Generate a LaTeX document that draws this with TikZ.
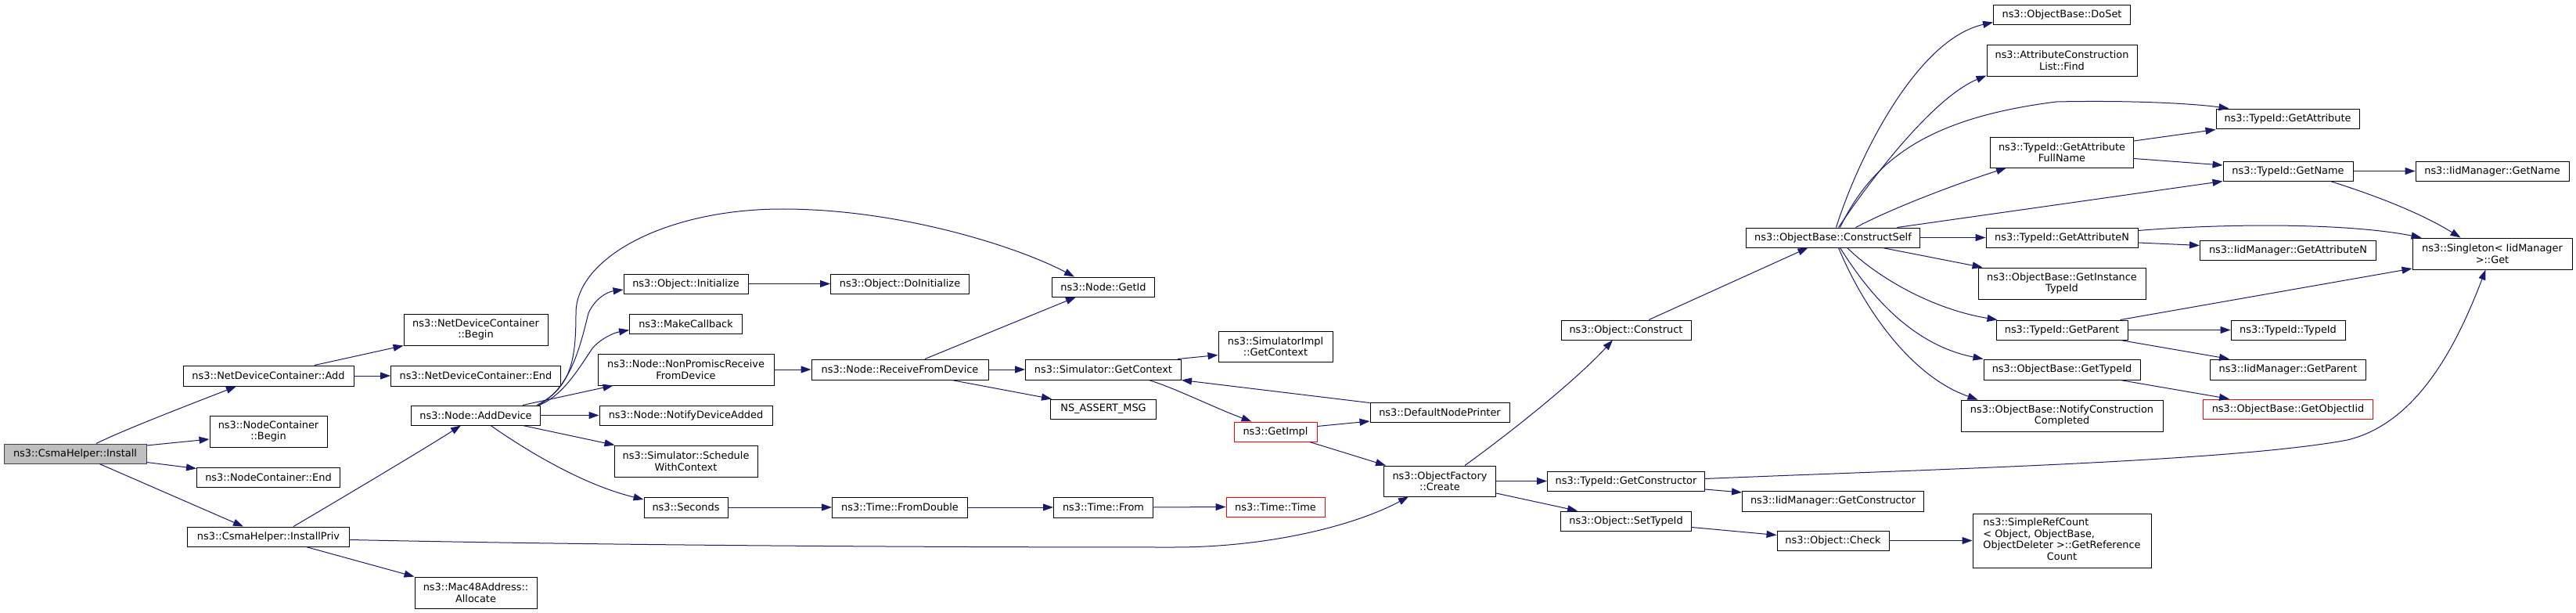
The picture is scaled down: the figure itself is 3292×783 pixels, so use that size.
\documentclass[tikz,border=0pt]{standalone}
\usepackage{fontspec}
\setmainfont{DejaVu Sans}
\usetikzlibrary{arrows.meta,calc}
\definecolor{edgec}{HTML}{191970}
\definecolor{rootfill}{HTML}{BFBFBF}
\definecolor{rootdraw}{HTML}{404040}
\newcommand\nodefont{\fontsize{12.9}{14.6}\selectfont}
\tikzset{
  nd/.style={draw=black, fill=white, line width=0.95pt, rectangle, inner sep=0pt, align=center, font=\nodefont},
  ndred/.style={nd, draw=red},
  ndroot/.style={nd, draw=rootdraw, fill=rootfill},
  sz/.style 2 args={minimum width=#1pt, minimum height=#2pt},
  conn/.style={draw=edgec, line width=1pt, -{Triangle[length=13pt,width=9pt]}}
}
\begin{document}
\begin{tikzpicture}[x=1pt,y=-1pt]
\useasboundingbox (0,0) rectangle (3292,783);
% rank 0
\node[ndroot,sz={182}{25}] (inst) at (96,579.5) {ns3::CsmaHelper::Install};
% rank 1
\node[nd,sz={218}{26}] (ndcadd) at (343,480) {ns3::NetDeviceContainer::Add};
\node[nd,sz={150}{40}] (ncbegin) at (343,551) {ns3::NodeContainer\\::Begin};
\node[nd,sz={183}{25}] (ncend) at (343,609.5) {ns3::NodeContainer::End};
\node[nd,sz={207}{25}] (instpriv) at (343,685.5) {ns3::CsmaHelper::InstallPriv};
% rank 2
\node[nd,sz={184}{40}] (ndcbegin) at (608,421) {ns3::NetDeviceContainer\\::Begin};
\node[nd,sz={217}{26}] (ndcend) at (608,480) {ns3::NetDeviceContainer::End};
\node[nd,sz={165}{25}] (adddev) at (608,530.5) {ns3::Node::AddDevice};
\node[nd,sz={156}{40}] (mac48) at (608,757) {ns3::Mac48Address::\\Allocate};
% rank 3
\node[nd,sz={159}{25}] (objinit) at (876.5,362.5) {ns3::Object::Initialize};
\node[nd,sz={144}{25}] (makecb) at (876.5,413.5) {ns3::MakeCallback};
\node[nd,sz={225}{40}] (nonpromisc) at (876.5,472) {ns3::Node::NonPromiscReceive\\FromDevice};
\node[nd,sz={221}{25}] (notify) at (876.5,530.5) {ns3::Node::NotifyDeviceAdded};
\node[nd,sz={183}{40}] (schedule) at (876.5,589) {ns3::Simulator::Schedule\\WithContext};
\node[nd,sz={107}{26}] (seconds) at (876.5,648) {ns3::Seconds};
% rank 4
\node[nd,sz={177}{25}] (doinit) at (1150,362.5) {ns3::Object::DoInitialize};
\node[nd,sz={226}{26}] (recv) at (1150,472) {ns3::Node::ReceiveFromDevice};
\node[nd,sz={173}{26}] (fromdouble) at (1150,648) {ns3::Time::FromDouble};
% rank 5
\node[nd,sz={131}{25}] (getid) at (1410,366.5) {ns3::Node::GetId};
\node[nd,sz={199}{26}] (simgetctx) at (1410,472) {ns3::Simulator::GetContext};
\node[nd,sz={135}{25}] (assert) at (1410,522.5) {NS\_ASSERT\_MSG};
\node[nd,sz={127}{26}] (timefrom) at (1410,648) {ns3::Time::From};
% rank 6
\node[nd,sz={146}{39}] (simimpl) at (1630,442.5) {ns3::SimulatorImpl\\::GetContext};
\node[ndred,sz={106}{25}] (getimpl) at (1630,551.5) {ns3::GetImpl};
\node[ndred,sz={126}{25}] (timetime) at (1630,647.5) {ns3::Time::Time};
% rank 7
\node[nd,sz={178}{25}] (defprinter) at (1840,526.5) {ns3::DefaultNodePrinter};
\node[nd,sz={143}{39}] (create) at (1840,614.5) {ns3::ObjectFactory\\::Create};
% rank 8
\node[nd,sz={166}{25}] (construct) at (2078,421.5) {ns3::Object::Construct};
\node[nd,sz={201}{25}] (getctor) at (2078,614.5) {ns3::TypeId::GetConstructor};
\node[nd,sz={167}{25}] (settypeid) at (2078,665.5) {ns3::Object::SetTypeId};
% rank 9
\node[nd,sz={222}{25}] (cself) at (2342.5,303.5) {ns3::ObjectBase::ConstructSelf};
\node[nd,sz={232}{26}] (iidgetctor) at (2342.5,640) {ns3::IidManager::GetConstructor};
\node[nd,sz={143}{25}] (check) at (2342.5,690.5) {ns3::Object::Check};
% rank 10
\node[nd,sz={175}{25}] (doset) at (2635,18.5) {ns3::ObjectBase::DoSet};
\node[nd,sz={192}{40}] (acfind) at (2635,77) {ns3::AttributeConstruction\\List::Find};
\node[nd,sz={183}{39}] (fullname) at (2635,194.5) {ns3::TypeId::GetAttribute\\FullName};
\node[nd,sz={194}{25}] (getattrn) at (2635,303.5) {ns3::TypeId::GetAttributeN};
\node[nd,sz={214}{40}] (insttid) at (2635,362) {ns3::ObjectBase::GetInstance\\TypeId};
\node[nd,sz={168}{25}] (getparent) at (2635,421.5) {ns3::TypeId::GetParent};
\node[nd,sz={200}{26}] (obgettid) at (2635,472) {ns3::ObjectBase::GetTypeId};
\node[nd,sz={258}{40}] (notifycc) at (2635,531) {ns3::ObjectBase::NotifyConstruction\\Completed};
\node[nd,sz={228}{69}] (simpleref) at (2635,690.5) {\begin{tabular}{@{}c@{}}\multicolumn{1}{@{}l@{}}{ns3::SimpleRefCount}\\\multicolumn{1}{@{}l@{}}{< Object, ObjectBase,}\\ObjectDeleter >::GetReference\\Count\end{tabular}};
% rank 11
\node[nd,sz={183}{25}] (getattr) at (2923.5,151.5) {ns3::TypeId::GetAttribute};
\node[nd,sz={166}{25}] (getname) at (2924,218.5) {ns3::TypeId::GetName};
\node[nd,sz={225}{25}] (iidattrn) at (2924,319.5) {ns3::IidManager::GetAttributeN};
\node[nd,sz={146}{25}] (typeidtypeid) at (2924,421.5) {ns3::TypeId::TypeId};
\node[nd,sz={199}{26}] (iidparent) at (2924,472) {ns3::IidManager::GetParent};
\node[ndred,sz={217}{25}] (objiid) at (2924,522.5) {ns3::ObjectBase::GetObjectIid};
% rank 12
\node[nd,sz={196}{25}] (iidname) at (3185,218.5) {ns3::IidManager::GetName};
\node[nd,sz={204}{40}] (singleton) at (3185,324) {ns3::Singleton< IidManager\\>::Get};

% connectors
\draw[conn] ($(inst.north)+(27,0)$) .. controls (160,548) and (260,510) .. ($(ndcadd.south)+(-41,0)$);
\draw[conn] ($(inst.east)+(0,-10.5)$) -- ($(ncbegin.west)+(0,10)$);
\draw[conn] ($(inst.east)+(0,11)$) -- ($(ncend.west)+(0,-11)$);
\draw[conn] ($(inst.south)+(31,0)$) -- ($(instpriv.north)+(-32,0)$);
\draw[conn] ($(ndcadd.north)+(59,0)$) -- (ndcbegin.south west);
\draw[conn] (ndcadd.east) -- (ndcend.west);
\draw[conn] ($(instpriv.north)+(32,0)$) .. controls (405,655) and (540,575) .. ($(adddev.south)+(-19,0)$);
\draw[conn] ($(instpriv.east)+(0,4)$) .. controls (800,697) and (1200,699) .. (1500,699) .. controls (1620,699) and (1730,672) .. ($(create.south)+(-40,0)$);
\draw[conn] ($(instpriv.south)+(48,0)$) -- (mac48.north west);
\draw[conn] ($(adddev.north east)+(-5,0)$) .. controls (730,495) and (736,460) .. (736,400) .. controls (736,330) and (850,267) .. (1000,267) .. controls (1150,267) and (1300,315) .. ($(getid.north)+(-37,0)$);
\draw[conn] ($(adddev.north east)+(-3,0)$) .. controls (730,495) and (742,440) .. (752,400) .. controls (760,382) and (775,373) .. ($(objinit.west)+(0,7.5)$);
\draw[conn] ($(adddev.north east)+(-2,0)$) .. controls (720,505) and (740,470) .. (757,445) .. controls (768,432) and (785,425) .. ($(makecb.west)+(0,8)$);
\draw[conn] ($(adddev.north)+(60,0)$) -- ($(nonpromisc.south west)+(20,0)$);
\draw[conn] (adddev.east) -- (notify.west);
\draw[conn] ($(adddev.south)+(60,0)$) -- ($(schedule.north west)+(1,0)$);
\draw[conn] ($(adddev.south)+(19,0)$) .. controls (665,570) and (740,618) .. ($(seconds.west)+(0,-10)$);
\draw[conn] (objinit.east) -- (doinit.west);
\draw[conn] (nonpromisc.east) -- (recv.west);
\draw[conn] (seconds.east) -- (fromdouble.west);
\draw[conn] ($(recv.north)+(32,0)$) -- ($(getid.south)+(-35,0)$);
\draw[conn] (recv.east) -- (simgetctx.west);
\draw[conn] ($(recv.south)+(66,0)$) -- ($(assert.north west)+(2,0)$);
\draw[conn] ($(simgetctx.north)+(95,0)$) -- ($(simimpl.west)+(0,11)$);
\draw[conn] ($(simgetctx.south)+(58,0)$) .. controls (1500,495) and (1550,520) .. ($(getimpl.north west)+(23,0)$);
\draw[conn] ($(defprinter.north west)+(0,1)$) -- (simgetctx.south east);
\draw[conn] ($(getimpl.east)+(0,-7)$) -- ($(defprinter.west)+(0,11.5)$);
\draw[conn] ($(getimpl.south east)+(-10,0)$) -- ($(create.north west)+(3,0)$);
\draw[conn] (fromdouble.east) -- (timefrom.west);
\draw[conn] (timefrom.east) -- (timetime.west);
\draw[conn] ($(create.north)+(32,0)$) .. controls (1920,560) and (2010,490) .. ($(construct.south)+(-17,0)$);
\draw[conn] (create.east) -- (getctor.west);
\draw[conn] ($(create.east)+(0,15.5)$) -- ($(settypeid.north west)+(22,0)$);
\draw[conn] ($(construct.north)+(29,0)$) -- ($(cself.south)+(-32,0)$);
\draw[conn] ($(cself.north)+(4,0)$) .. controls (2375,200) and (2450,50) .. ($(doset.west)+(0,10)$);
\draw[conn] ($(cself.north)+(7,0)$) .. controls (2390,230) and (2470,125) .. ($(acfind.south west)+(0,-1)$);
\draw[conn] ($(cself.north)+(9,0)$) .. controls (2395,200) and (2470,150) .. (2628,130) .. controls (2720,128) and (2800,132) .. ($(getattr.north west)+(17,0)$);
\draw[conn] ($(cself.north)+(29,0)$) .. controls (2420,265) and (2500,235) .. ($(fullname.south west)+(21,0)$);
\draw[conn] ($(cself.north)+(82,0)$) -- (getname.south west);
\draw[conn] (cself.east) -- (getattrn.west);
\draw[conn] ($(cself.south)+(63,0)$) -- ($(insttid.north west)+(6,0)$);
\draw[conn] ($(cself.south)+(18,0)$) .. controls (2400,355) and (2470,395) .. ($(getparent.north west)+(2,0)$);
\draw[conn] ($(cself.south)+(9,0)$) .. controls (2385,370) and (2440,440) .. (obgettid.north west);
\draw[conn] ($(cself.south)+(7,0)$) .. controls (2380,390) and (2440,480) .. ($(notifycc.north west)+(22,0)$);
\draw[conn] ($(fullname.east)+(0,-14.5)$) -- ($(getattr.south west)+(0,1)$);
\draw[conn] ($(fullname.east)+(0,8)$) -- ($(getname.west)+(0,-7.5)$);
\draw[conn] ($(getattrn.east)+(0,6.5)$) -- ($(iidattrn.west)+(0,-6)$);
\draw[conn] ($(getattrn.east)+(0,-9)$) .. controls (2850,285) and (3000,285) .. ($(singleton.north west)+(12,0)$);
\draw[conn] (getname.east) -- (iidname.west);
\draw[conn] ($(getname.south)+(54,0)$) .. controls (3030,248) and (3090,270) .. ($(singleton.north west)+(62,0)$);
\draw[conn] ($(getparent.north east)+(-10,0)$) -- ($(singleton.west)+(0,19)$);
\draw[conn] (getparent.east) -- (typeidtypeid.west);
\draw[conn] ($(getparent.south east)+(-10,0)$) -- ($(iidparent.north west)+(25,0)$);
\draw[conn] ($(obgettid.south east)+(-26,0)$) -- ($(objiid.north west)+(34,0)$);
\draw[conn] ($(getctor.east)+(0,-3)$) .. controls (2450,600) and (2850,590) .. (3000,562) .. controls (3090,540) and (3140,440) .. ($(singleton.south)+(-8.5,0)$);
\draw[conn] ($(getctor.east)+(0,10.5)$) -- ($(iidgetctor.west)+(0,-11)$);
\draw[conn] ($(settypeid.east)+(0,8)$) -- ($(check.west)+(0,-7)$);
\draw[conn] (check.east) -- (simpleref.west);
\end{tikzpicture}
\end{document}
